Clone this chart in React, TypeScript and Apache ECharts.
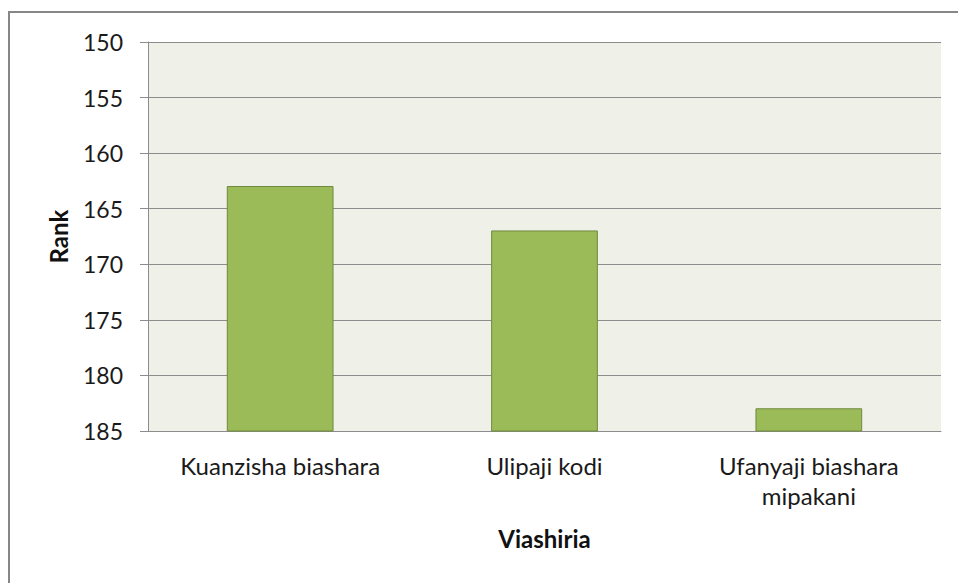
import React, { useEffect, useRef } from "react";
import * as echarts from "echarts";

const categories = ["Kuanzisha biashara", "Ulipaji kodi", "Ufanyaji biashara\nmipakani"];
const ranks = [163, 167, 183];
const yMin = 150;
const yMax = 185;
const yStep = 5;
const yAxisTitle = "Rank";
const xAxisTitle = "Viashiria";

const FONT = "Lato, 'Open Sans', sans-serif";

export default function App() {
  const ref = useRef<HTMLDivElement>(null);
  useEffect(() => {
    if (!ref.current) return;
    const chart = echarts.init(ref.current, undefined, { renderer: "svg" });
    chart.setOption({
      animation: false,
      backgroundColor: "#ffffff",
      textStyle: { fontFamily: FONT },
      grid: {
        left: 148,
        top: 42,
        right: 17,
        bottom: 152,
        show: true,
        backgroundColor: "#EFF1E9",
        borderWidth: 0,
      },
      graphic: [
        {
          type: "rect",
          shape: { x: 9, y: 12, width: 1200, height: 1200 },
          style: { fill: "none", stroke: "#878787", lineWidth: 2 },
          silent: true,
          z: 100,
        },
      ],
      xAxis: {
        type: "category",
        data: categories,
        name: xAxisTitle,
        nameLocation: "middle",
        nameGap: 95,
        nameTextStyle: { fontSize: 24, fontWeight: "bold", color: "#111", fontFamily: FONT },
        axisLine: { show: true, lineStyle: { color: "#8C8C8C", width: 1 } },
        axisTick: { show: false },
        axisLabel: { fontSize: 24, color: "#1a1a1a", margin: 19, lineHeight: 30, fontFamily: FONT, interval: 0 },
        splitLine: { show: false },
      },
      yAxis: {
        type: "value",
        inverse: true,
        min: yMin,
        max: yMax,
        interval: yStep,
        name: yAxisTitle,
        nameLocation: "middle",
        nameRotate: 90,
        nameGap: 78,
        nameTextStyle: { fontSize: 24, fontWeight: "bold", color: "#111", fontFamily: FONT },
        axisLine: { show: true, lineStyle: { color: "#8C8C8C", width: 1 } },
        axisTick: { show: true, length: 8, lineStyle: { color: "#8C8C8C" } },
        axisLabel: { fontSize: 23, color: "#1a1a1a", margin: 25, fontFamily: FONT },
        splitLine: { show: true, lineStyle: { color: "#8C8C8C", width: 1 } },
      },
      series: [
        {
          type: "custom",
          data: ranks.map((v, i) => [i, v]),
          encode: { x: 0, y: 1 },
          renderItem: (params: any, api: any) => {
            const idx = api.value(0);
            const val = api.value(1);
            const top = api.coord([idx, val]);
            const bottom = api.coord([idx, yMax]);
            const bandW = api.size([1, 0])[0];
            const w = bandW * 0.4;
            return {
              type: "rect",
              shape: { x: top[0] - w / 2, y: top[1], width: w, height: bottom[1] - top[1] },
              style: { fill: "#9BBB59", stroke: "#71893F", lineWidth: 1 },
              z2: 10,
            };
          },
          z: 5,
        },
      ],
    });
    return () => chart.dispose();
  }, []);
  return (
    <div
      ref={ref}
      style={{ position: "absolute", left: 0, top: 0, width: 958, height: 583 }}
    />
  );
}
